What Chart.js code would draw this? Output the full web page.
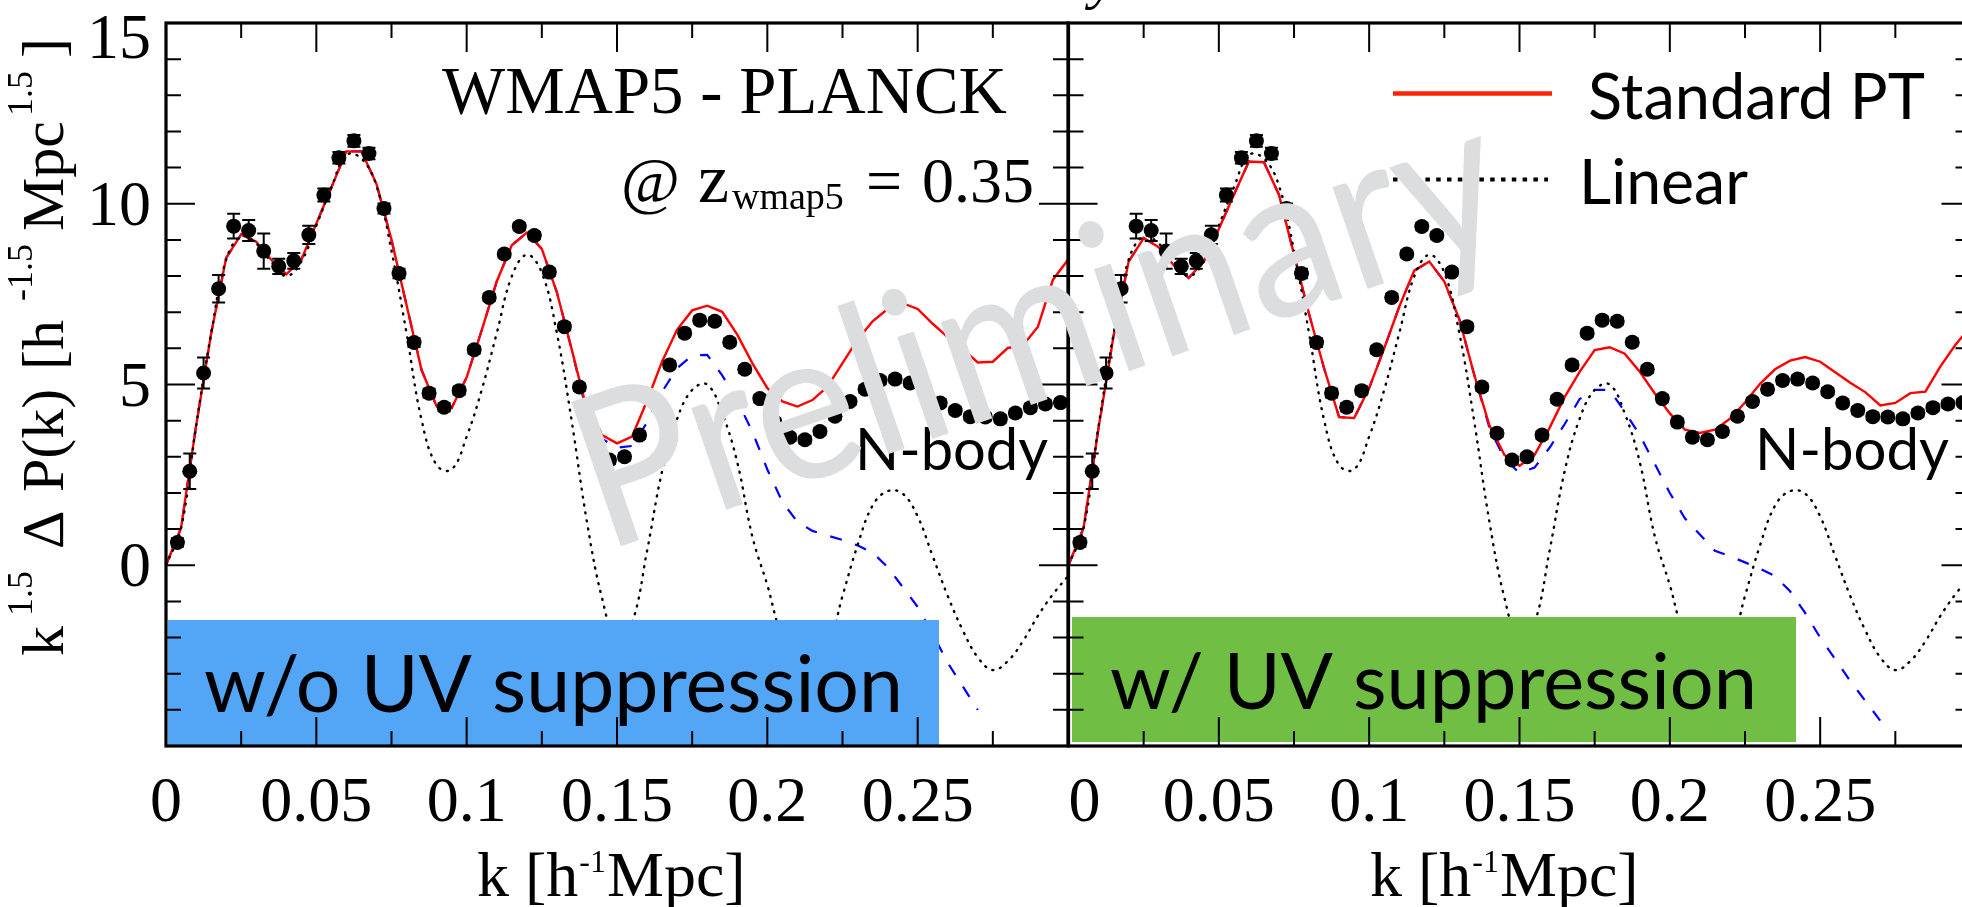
<!DOCTYPE html>
<html>
<head>
<meta charset="utf-8">
<script src="https://cdn.jsdelivr.net/npm/chart.js@4.4.1/dist/chart.umd.min.js"></script>
<style>
  html, body { margin: 0; padding: 0; background: #fff; overflow: hidden; width: 1962px; height: 907px; }
  canvas { position: absolute; left: 0; top: 0; }
</style>
</head>
<body>
<canvas id="panelLeft" width="1962" height="907" style="width:1962px;height:907px"></canvas>
<canvas id="panelRight" width="1990" height="907" style="width:1990px;height:907px"></canvas>
<script>
// ---- wavenumber grid of the model curves [h/Mpc] ----
const kGrid = [0, 0.005, 0.01, 0.015, 0.02, 0.025, 0.03, 0.035, 0.04, 0.045,
  0.05, 0.055, 0.06, 0.065, 0.07, 0.075, 0.08, 0.085, 0.09, 0.095,
  0.1, 0.105, 0.11, 0.115, 0.12, 0.125, 0.13, 0.135, 0.14, 0.145,
  0.15, 0.155, 0.16, 0.165, 0.17, 0.175, 0.18, 0.185, 0.19, 0.195,
  0.2, 0.205, 0.21, 0.215, 0.22, 0.225, 0.23, 0.235, 0.24, 0.245,
  0.25, 0.255, 0.26, 0.265, 0.27, 0.275, 0.28, 0.285, 0.29, 0.295, 0.3];

// Linear theory difference (same in both panels)
const linearDiff = [0, 1.03, 3.85, 6.4, 8.45, 9.1, 8.9, 8.4, 8.0, 8.4,
  9.4, 10.45, 11.35, 11.25, 10.5, 8.7, 6.42, 4.02, 2.77, 2.65,
  3.56, 4.85, 6.42, 7.99, 8.59, 8.09, 6.42, 3.95, 1.2, -0.9,
  -2.1, -1.6, 0.4, 2.6, 4.05, 4.85, 5.0, 4.2, 2.85, 0.8,
  -0.55, -2.0, -2.6, -2.7, -2.3, -0.85, 0.55, 1.65, 2.05, 1.98,
  1.35, 0.25, -0.85, -1.8, -2.55, -2.9, -2.65, -2.1, -1.4, -0.8, -0.3];

// Standard PT, without UV suppression
const sptNoUV = [0, 1.03, 3.85, 6.4, 8.5, 9.15, 8.95, 8.45, 8.05, 8.45,
  9.45, 10.45, 11.45, 11.45, 10.55, 9.0, 7.2, 5.4, 4.4, 4.35,
  5.2, 6.5, 7.85, 8.85, 9.2, 8.75, 7.55, 5.95, 4.3, 3.6,
  3.37, 3.56, 4.55, 5.64, 6.52, 7.05, 7.18, 7.01, 6.38, 5.59,
  4.9, 4.53, 4.39, 4.57, 4.94, 5.59, 6.24, 6.75, 7.09, 7.25,
  7.09, 6.68, 6.31, 5.98, 5.61, 5.63, 6.01, 6.08, 6.6, 7.9, 8.45];

// dashed model, without UV suppression (ends at k = 0.27)
const dashedNoUV = [0, 1.03, 3.85, 6.4, 8.5, 9.15, 8.95, 8.45, 8.05, 8.45,
  9.45, 10.45, 11.45, 11.45, 10.55, 9.0, 7.2, 5.4, 4.4, 4.35,
  5.2, 6.5, 7.85, 8.85, 9.2, 8.75, 7.55, 5.95, 4.2, 3.5,
  3.25, 3.3, 3.95, 4.8, 5.45, 5.8, 5.82, 5.25, 4.55, 3.7,
  2.65, 1.75, 1.2, 0.95, 0.82, 0.7, 0.55, 0.35, -0.05, -0.6,
  -1.15, -1.9, -2.7, -3.35, -4.0];

// Standard PT, with UV suppression
const sptUV = [0, 1.03, 3.8, 6.35, 8.4, 9.05, 8.8, 8.3, 7.95, 8.4,
  9.3, 10.25, 11.17, 11.15, 10.25, 8.6, 6.95, 5.45, 4.1, 4.07,
  4.9, 6.0, 7.15, 8.15, 8.4, 7.85, 6.8, 5.25, 3.87, 3.05,
  2.75, 3.05, 3.8, 4.65, 5.35, 5.95, 6.03, 5.85, 5.35, 4.75,
  4.2, 3.75, 3.66, 3.75, 4.05, 4.5, 5.02, 5.42, 5.66, 5.76,
  5.63, 5.34, 5.05, 4.79, 4.42, 4.49, 4.76, 4.8, 5.5, 6.1, 6.6];

// dashed model, with UV suppression (ends at k = 0.27)
const dashedUV = [0, 1.03, 3.8, 6.35, 8.4, 9.05, 8.8, 8.3, 7.95, 8.4,
  9.3, 10.25, 11.17, 11.15, 10.25, 8.6, 6.95, 5.45, 4.1, 4.07,
  4.9, 6.0, 7.15, 8.15, 8.4, 7.85, 6.8, 5.25, 3.8, 2.95,
  2.55, 2.7, 3.25, 3.9, 4.6, 4.85, 4.85, 4.25, 3.6, 2.8,
  2.0, 1.3, 0.85, 0.4, 0.25, 0.08, -0.1, -0.3, -0.72, -1.32,
  -2.0, -2.6, -3.2, -3.75, -4.3];

// N-body measurement
const nbodyK = [0.0038, 0.0079, 0.0125, 0.0175, 0.0225, 0.0275, 0.0325, 0.0375, 0.0425, 0.0475,
  0.0525, 0.0575, 0.0625, 0.0675, 0.0725, 0.0775, 0.0825, 0.0875, 0.0925, 0.0975,
  0.1025, 0.1075, 0.1125, 0.1175, 0.1225, 0.1275, 0.1325, 0.1375, 0.1425, 0.1475,
  0.1525, 0.1575, 0.1625, 0.1675, 0.1725, 0.1775, 0.1825, 0.1875, 0.1925, 0.1975,
  0.2025, 0.2075, 0.2125, 0.2175, 0.2225, 0.2275, 0.2325, 0.2375, 0.2425, 0.2475,
  0.2525, 0.2575, 0.2625, 0.2675, 0.2725, 0.2775, 0.2825, 0.2875, 0.2925, 0.2975];
const nbodyDiff = [0.63, 2.6, 5.32, 7.65, 9.38, 9.26, 8.69, 8.27, 8.42, 9.14,
  10.24, 11.27, 11.74, 11.39, 9.87, 8.07, 6.16, 4.76, 4.37, 4.83,
  5.96, 7.41, 8.61, 9.37, 9.12, 8.11, 6.6, 4.93, 3.65, 2.91,
  3.0, 3.6, 4.59, 5.54, 6.42, 6.78, 6.75, 6.17, 5.42, 4.61,
  3.96, 3.54, 3.47, 3.7, 4.12, 4.53, 4.87, 5.11, 5.15, 5.04,
  4.8, 4.49, 4.28, 4.11, 4.1, 4.05, 4.21, 4.36, 4.46, 4.5];
const nbodyErr = [0.12, 0.49, 0.43, 0.38, 0.34, 0.29, 0.49, 0.21, 0.22, 0.25,
  0.18, 0.16, 0.16, 0.16, 0.14, 0.13, 0.12, 0.12, 0.11, 0.11,
  0.1, 0.1, 0.1, 0.1, 0.1, 0.1, 0.1, 0.1, 0.1, 0.1,
  0.1, 0.1, 0.1, 0.1, 0.1, 0.1, 0.1, 0.1, 0.1, 0.1,
  0.1, 0.1, 0.1, 0.1, 0.1, 0.1, 0.1, 0.1, 0.1, 0.1,
  0.1, 0.1, 0.1, 0.1, 0.1, 0.1, 0.1, 0.1, 0.1, 0.1];

// axes
const xMajorTicks = [0, 0.05, 0.1, 0.15, 0.2, 0.25, 0.3];
const xMinorTicks = [0.025, 0.075, 0.125, 0.175, 0.225, 0.275];
const xTickLabels = ['0', '0.05', '0.1', '0.15', '0.2', '0.25'];
const yMajorTicks = [-5, 0, 5, 10, 15];
const yMinorTicks = [-4, -3, -2, -1, 1, 2, 3, 4, 6, 7, 8, 9, 11, 12, 13, 14];
const yTickValues = [0, 5, 10, 15];
const yTickLabels = ['0', '5', '10', '15'];

const SERIF = '"Liberation Serif", "Times New Roman", Times, serif';
const SANS = 'Lato, "Open Sans", "DejaVu Sans", sans-serif';

const toPoints = (ks, vs) => vs.map((v, i) => ({ x: ks[i], y: v }));

function fitText(ctx, text, family, x, y, width, base) {
  ctx.font = base + 'px ' + family;
  const w = ctx.measureText(text).width;
  const size = base * width / w;
  ctx.font = size.toFixed(2) + 'px ' + family;
  ctx.fillText(text, x, y);
}

function drawXTitle(ctx, x0) {
  ctx.textAlign = 'left';
  ctx.fillStyle = '#000';
  let x = x0;
  ctx.font = '64px ' + SERIF;
  ctx.fillText('k [h', x, 896);
  x += ctx.measureText('k [h').width;
  ctx.font = '32px ' + SERIF;
  ctx.fillText('-1', x + 1, 872);
  x += ctx.measureText('-1').width + 2;
  ctx.font = '64px ' + SERIF;
  ctx.fillText('Mpc]', x, 896);
}

function drawYTitle(ctx) {
  // text runs bottom to top; baseline sits at x = 63
  ctx.save();
  ctx.translate(63, 0);
  ctx.rotate(-Math.PI / 2);
  ctx.fillStyle = '#000';
  ctx.textAlign = 'left';
  const pieces = [
    { t: 'k', at: 656, size: 60, shift: 0 },
    { t: '1.5', at: 616, size: 36, shift: -31 },
    { t: '\u0394', at: 549, size: 60, shift: 0 },
    { t: 'P(k)', at: 492, size: 60, shift: 0 },
    { t: '[h', at: 370, size: 60, shift: 0 },
    { t: '-1.5', at: 301, size: 36, shift: -31 },
    { t: 'Mpc', at: 231, size: 60, shift: 0 },
    { t: '1.5', at: 116, size: 36, shift: -31 },
    { t: ']', at: 58, size: 60, shift: 0 }
  ];
  for (const p of pieces) {
    ctx.font = p.size + 'px ' + SERIF;
    ctx.fillText(p.t, -p.at, p.shift);
  }
  ctx.restore();
}

function drawFrameAndTicks(ctx, xs, ys, a) {
  ctx.save();
  ctx.strokeStyle = '#000';
  ctx.lineWidth = 2;
  ctx.beginPath();
  const xt = (v, len) => {
    const px = xs.getPixelForValue(v);
    ctx.moveTo(px, a.bottom); ctx.lineTo(px, a.bottom - len);
    ctx.moveTo(px, a.top); ctx.lineTo(px, a.top + len);
  };
  const yt = (v, len) => {
    const py = ys.getPixelForValue(v);
    ctx.moveTo(a.left, py); ctx.lineTo(a.left + len, py);
    ctx.moveTo(a.right, py); ctx.lineTo(a.right - len, py);
  };
  xMajorTicks.forEach(v => xt(v, 29));
  xMinorTicks.forEach(v => xt(v, 15));
  yMajorTicks.forEach(v => yt(v, 29));
  yMinorTicks.forEach(v => yt(v, 15));
  ctx.stroke();
  ctx.lineWidth = 3.2;
  ctx.strokeRect(a.left, a.top, a.right - a.left, a.bottom - a.top);
  ctx.restore();
}

function panelPlugin(cfg) {
  return {
    id: 'panelDecor',
    afterDatasetsDraw(chart) {
      const ctx = chart.ctx, xs = chart.scales.x, ys = chart.scales.y, a = chart.chartArea;
      ctx.save();
      // error bars of the N-body points
      ctx.strokeStyle = '#000';
      ctx.lineWidth = 2;
      ctx.beginPath();
      nbodyK.forEach((k, i) => {
        const px = xs.getPixelForValue(k);
        const y1 = ys.getPixelForValue(nbodyDiff[i] + nbodyErr[i]);
        const y2 = ys.getPixelForValue(nbodyDiff[i] - nbodyErr[i]);
        ctx.moveTo(px, y1); ctx.lineTo(px, y2);
        ctx.moveTo(px - 6.5, y1); ctx.lineTo(px + 6.5, y1);
        ctx.moveTo(px - 6.5, y2); ctx.lineTo(px + 6.5, y2);
      });
      ctx.stroke();

      // label box
      const b = cfg.box;
      ctx.fillStyle = b.color;
      ctx.fillRect(b.x, b.y, b.w, b.h);
      ctx.fillStyle = '#000';
      ctx.textAlign = 'left';
      ctx.textBaseline = 'alphabetic';
      fitText(ctx, b.text, SANS, b.tx, b.ty, b.tw, 80);

      drawFrameAndTicks(ctx, xs, ys, a);

      // tick labels
      ctx.fillStyle = '#000';
      ctx.textAlign = 'center';
      ctx.font = '64px ' + SERIF;
      xTickLabels.forEach((lab, i) => {
        let px = xs.getPixelForValue(xMajorTicks[i]);
        if (i === 0) px += cfg.zeroShift;
        ctx.fillText(lab, px, 821);
      });
      if (cfg.yLabels) {
        ctx.textAlign = 'right';
        yTickLabels.forEach((lab, i) => {
          const py = ys.getPixelForValue(yTickValues[i]);
          const base = yTickValues[i] === 15 ? 58 : py + 21;
          ctx.fillText(lab, 151, base);
        });
        drawYTitle(ctx);
      }
      drawXTitle(ctx, cfg.xTitleX);

      // N-body label
      ctx.textAlign = 'left';
      fitText(ctx, 'N-body', SANS, cfg.nbody.x, cfg.nbody.y, cfg.nbody.w, 56);

      cfg.extra(ctx);
      ctx.restore();
    }
  };
}

function leftExtras(ctx) {
  ctx.fillStyle = '#000';
  ctx.textAlign = 'left';
  fitText(ctx, 'WMAP5 - PLANCK', SERIF, 442, 113, 565, 66);
  ctx.font = '64px ' + SERIF;
  ctx.fillText('@', 621, 202);
  ctx.font = '70px ' + SERIF;
  ctx.fillText('z', 698, 202);
  ctx.font = '38px ' + SERIF;
  ctx.fillText('wmap5', 732, 209);
  ctx.font = '64px ' + SERIF;
  ctx.fillText('=', 866, 202);
  ctx.fillText('0.35', 922, 202);
}

function rightExtras(ctx) {
  // legend
  ctx.save();
  ctx.strokeStyle = '#ff2200';
  ctx.lineWidth = 4.5;
  ctx.beginPath(); ctx.moveTo(1393, 93.5); ctx.lineTo(1552, 93.5); ctx.stroke();
  ctx.strokeStyle = '#000';
  ctx.lineWidth = 4.2;
  ctx.setLineDash([4.5, 6.3]);
  ctx.beginPath(); ctx.moveTo(1393, 179.5); ctx.lineTo(1548, 179.5); ctx.stroke();
  ctx.restore();
  ctx.fillStyle = '#000';
  ctx.textAlign = 'left';
  fitText(ctx, 'Standard PT', SANS, 1588, 118.5, 337, 62);
  fitText(ctx, 'Linear', SANS, 1579, 203.5, 169, 62);

  // watermark across both panels
  ctx.save();
  ctx.translate(604, 552);
  ctx.rotate(-19 * Math.PI / 180);
  ctx.scale(0.92, 1);
  ctx.fillStyle = '#dcdddf';
  fitText(ctx, 'Preliminary', SANS, 0, 0, 1050, 205);
  ctx.restore();

  // descender of the heading above the frame
  ctx.fillStyle = '#000';
  ctx.font = 'italic 60px ' + SERIF;
  ctx.fillText('y', 1090, -3);
}

function makePanel(canvasId, padding, spt, dashed, cfg) {
  const ctx = document.getElementById(canvasId).getContext('2d');
  return new Chart(ctx, {
    type: 'line',
    data: {
      datasets: [
        { label: 'N-body', data: toPoints(nbodyK, nbodyDiff), showLine: false,
          pointRadius: 7.5, pointHoverRadius: 7.5, pointBackgroundColor: '#000',
          pointBorderColor: '#000', pointBorderWidth: 0, order: 0 },
        { label: 'Linear', data: toPoints(kGrid, linearDiff), borderColor: '#000',
          borderWidth: 2.4, borderDash: [1, 7], borderCapStyle: 'round', tension: 0.4,
          pointRadius: 0, fill: false, order: 1 },
        { label: 'Standard PT', data: toPoints(kGrid, spt), borderColor: '#ff0000',
          borderWidth: 2.4, tension: 0, pointRadius: 0, fill: false, order: 2 },
        { label: 'dashed', data: toPoints(kGrid, dashed), borderColor: '#0000ff',
          borderWidth: 2.2, borderDash: [12, 14], tension: 0, pointRadius: 0, fill: false, order: 3 }
      ]
    },
    options: {
      responsive: false,
      animation: false,
      devicePixelRatio: 1,
      events: [],
      layout: { padding },
      scales: {
        x: { type: 'linear', min: 0, max: 0.3, display: false },
        y: { type: 'linear', min: -5, max: 15, display: false }
      },
      plugins: { legend: { display: false }, tooltip: { enabled: false } }
    },
    plugins: [panelPlugin(cfg)]
  });
}

makePanel('panelLeft', { left: 166, right: 894, top: 23, bottom: 161 }, sptNoUV, dashedNoUV, {
  box: { x: 168, y: 620, w: 771, h: 126, color: '#53a5f6', text: 'w/o UV suppression', tx: 204, ty: 712, tw: 699 },
  nbody: { x: 855, y: 470, w: 193 },
  zeroShift: 0, yLabels: true, xTitleX: 477, extra: leftExtras
});

makePanel('panelRight', { left: 1068.5, right: 19.5, top: 23, bottom: 161 }, sptUV, dashedUV, {
  box: { x: 1072, y: 617, w: 724, h: 125, color: '#70bf44', text: 'w/ UV suppression', tx: 1110, ty: 708.5, tw: 647 },
  nbody: { x: 1755, y: 470, w: 194 },
  zeroShift: 16, yLabels: false, xTitleX: 1370, extra: rightExtras
});
</script>
</body>
</html>
